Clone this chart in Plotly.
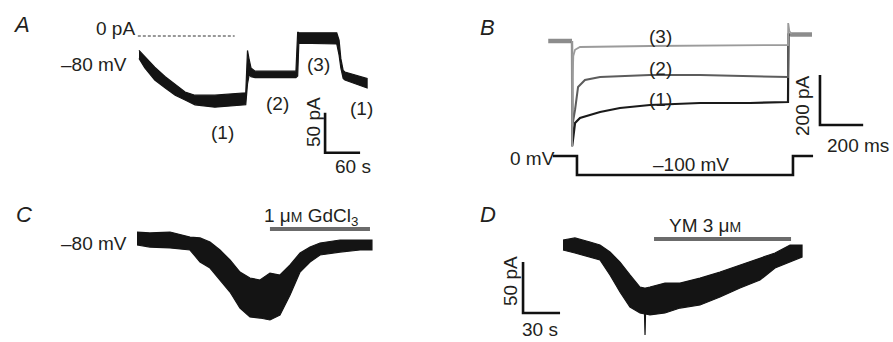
import plotly.graph_objects as go

W, H = 893, 342
FONT = "Liberation Sans, Arial, Helvetica, sans-serif"
TXT = "#231f20"

# ---------------- Panel A: holding current at -80 mV (time s, current pA)
A_t  = [0, 10, 27, 45, 62, 79, 96, 130, 183, 186, 189, 192, 199, 269, 272, 274, 339, 343, 346, 350, 353, 370, 391]
A_hi = [-18, -26, -39, -51, -61, -70, -74, -74, -71, -18, -30, -40, -44, -44, 5, 4, 4, -5, -28, -43, -45, -49, -53]
A_lo = [-28, -40, -55, -65, -74, -80, -86, -89, -86, -60, -48, -51, -52, -52, -50, -9, -10, -24, -40, -53, -55, -60, -65]
A_zero_t = [-2, 164]           # 0 pA reference line (s)
A_bar_t, A_bar_i = 319, -146    # scale bar corner
A_bar_dt, A_bar_di = 60, 50     # 60 s, 50 pA

# ---------------- Panel B: currents during a step to -100 mV (time ms, current pA)
B_base_left_t, B_base_left_i = [-110, 0], [0, 0]
B_base_right_t, B_base_right_i = [1010, 1111], [26, 26]
B1_t = [0, 1, 14, 37, 83, 130, 222, 361, 593, 824, 1000, 1002, 1010]
B1_i = [0, -420, -328, -308, -296, -284, -268, -256, -248, -248, -244, 26, 26]
B2_t = [0, 2, 14, 28, 60, 130, 361, 593, 1000, 1002, 1010]
B2_i = [0, -336, -276, -184, -156, -144, -136, -136, -144, 26, 26]
B3_t = [0, 0.5, 1.5, 3, 6, 14, 37, 361, 1000, 1001, 1006, 1015]
B3_i = [0, -424, -330, -150, -60, -35, -24, -20, -16, 72, 40, 28]
BV_t = [-88, 23, 23, 1023, 1023, 1116]
BV_v = [0, 0, -100, -100, 0, 0]
B_bar_t, B_bar_i = 1148, -336
B_bar_dt, B_bar_di = 200, 200   # 200 ms, 200 pA

# ---------------- Panel C: GdCl3 (time s, current pA)
C_t  = [0, 10.5, 26.8, 43.0, 51.1, 59.2, 67.3, 75.4, 83.5, 91.6, 99.7, 107.8, 115.9, 124.1, 132.2, 140.3, 148.4, 164.6, 180.8, 190.5]
C_hi = [7.8, 6.9, 7.8, 2.9, 2.0, -2.0, -9.8, -19.6, -31.4, -37.3, -39.2, -32.4, -34.3, -24.5, -12.7, -6.9, -2.9, 0, 0, 0]
C_lo = [-4.9, -6.9, -7.8, -9.8, -21.6, -27.5, -39.2, -51.0, -66.7, -75.5, -76.5, -78.4, -73.5, -53.9, -31.4, -21.6, -14.7, -11.8, -9.8, -9.8]
C_drug_t, C_drug_i = [107.8, 188.9], [10.8, 10.8]

# ---------------- Panel D: YM 3 uM (time s, current pA)
D_t  = [0, 9.7, 21.9, 30.0, 38.1, 46.2, 54.3, 62.4, 66.1, 66.5, 66.9, 70.5, 82.7, 94.9, 111.1, 127.3, 143.5, 159.7, 171.9, 184.1, 193.8]
D_hi = [4.9, 6.9, 2.9, 0, -6.9, -16.7, -29.4, -41.2, -42.2, -42.2, -42.2, -41.2, -37.3, -37.3, -32.4, -26.5, -19.6, -12.7, -7.8, 0, 0]
D_lo = [-4.9, -7.8, -11.8, -14.7, -29.4, -46.1, -60.8, -66.7, -67.6, -88.2, -67.6, -68.6, -66.7, -61.8, -58.8, -51.0, -42.2, -34.3, -22.5, -16.7, -11.8]
D_drug_t, D_drug_i = [73.8, 184.9], [5.9, 5.9]
D_bar_t, D_bar_i = -32.4, -66.7
D_bar_dt, D_bar_di = 30, 50     # 30 s, 50 pA

fig = go.Figure()
axes = {}

def place(n, box, origin, scale):
    l, t, r, b = box
    x0, y0 = origin
    sx, sy = scale
    sfx = "" if n == 1 else str(n)
    axes["xaxis" + sfx] = dict(domain=[l / W, r / W], range=[(l - x0) / sx, (r - x0) / sx],
                               visible=False, anchor="y" + sfx, fixedrange=True)
    axes["yaxis" + sfx] = dict(domain=[1 - b / H, 1 - t / H], range=[(y0 - b) / sy, (y0 - t) / sy],
                               visible=False, anchor="x" + sfx, fixedrange=True)

def place_y(n, xn, box, y0, sy, overlay):
    l, t, r, b = box
    axes["yaxis" + str(n)] = dict(domain=[1 - b / H, 1 - t / H], range=[(y0 - b) / sy, (y0 - t) / sy],
                                  visible=False, anchor="x" + xn, overlaying="y" + overlay, fixedrange=True)

place(1, (130, 0, 445, 180), (139, 36), (35 / 60, 40 / 50))
place(2, (540, 0, 893, 185), (572, 41), (0.216, 0.25))
place(3, (130, 190, 445, 342), (137, 240), (37 / 30, 51 / 50))
place(4, (470, 190, 893, 342), (563, 245), (37 / 30, 51 / 50))
place_y(5, "2", (540, 0, 893, 185), 156, 0.19, "2")

def band(t, hi, lo, xa, ya, color="#141414"):
    fig.add_trace(go.Scatter(x=t + t[::-1], y=hi + lo[::-1], fill="toself", fillcolor=color,
                             mode="lines", line=dict(color=color, width=1.2),
                             xaxis=xa, yaxis=ya, hoverinfo="skip"))

def line(x, y, xa, ya, color, width, dash=None):
    fig.add_trace(go.Scatter(x=x, y=y, mode="lines", line=dict(color=color, width=width, dash=dash),
                             xaxis=xa, yaxis=ya, hoverinfo="skip"))

def scalebar(t0, i0, dt, di, xa, ya):
    line([t0, t0, t0 + dt], [i0 + di, i0, i0], xa, ya, "#111", 2.6)

# Panel A
line(A_zero_t, [0, 0], "x", "y", "#333", 1, dash="3px,2px")
band(A_t, A_hi, A_lo, "x", "y")
scalebar(A_bar_t, A_bar_i, A_bar_dt, A_bar_di, "x", "y")

# Panel B
line(B_base_left_t, B_base_left_i, "x2", "y2", "#8c8c8c", 4.5)
line(B_base_right_t, B_base_right_i, "x2", "y2", "#8c8c8c", 4.5)
line(B1_t, B1_i, "x2", "y2", "#1a1a1a", 2.2)
line(B2_t, B2_i, "x2", "y2", "#5c5c5c", 2.0)
line(B3_t, B3_i, "x2", "y2", "#9b9b9b", 1.8)
line(BV_t, BV_v, "x2", "y5", "#111", 2.6)
scalebar(B_bar_t, B_bar_i, B_bar_dt, B_bar_di, "x2", "y2")

# Panel C
band(C_t, C_hi, C_lo, "x3", "y3")
line(C_drug_t, C_drug_i, "x3", "y3", "#6b6b6b", 4)

# Panel D
band(D_t, D_hi, D_lo, "x4", "y4")
line(D_drug_t, D_drug_i, "x4", "y4", "#6b6b6b", 4)
scalebar(D_bar_t, D_bar_i, D_bar_dt, D_bar_di, "x4", "y4")

def txt(s, x, y, size=19, anchor="center", angle=0, yanchor="middle"):
    return dict(text=s, x=x / W, y=1 - y / H, xref="paper", yref="paper", xanchor=anchor,
                yanchor=yanchor, showarrow=False, textangle=angle,
                font=dict(size=size, color=TXT, family=FONT))

small_m = "<span style='font-size:14px'>M</span>"
ann = [
    txt("<i>A</i>", 21, 25, 22),
    txt("0 pA", 137, 29, anchor="right"),
    txt("\u201380 mV", 129, 64, anchor="right"),
    txt("(1)", 222, 133),
    txt("(2)", 277, 103),
    txt("(3)", 318, 65),
    txt("(1)", 361, 108),
    txt("50 pA", 314, 122, angle=-90),
    txt("60 s", 353, 166),
    txt("<i>B</i>", 488, 27, 22),
    txt("(3)", 660, 37),
    txt("(2)", 660, 69),
    txt("(1)", 660, 99),
    txt("200 pA", 803, 106, angle=-90),
    txt("200 ms", 858, 146),
    txt("0 mV", 557, 158, anchor="right"),
    txt("\u2013100 mV", 691, 164),
    txt("<i>C</i>", 24, 214, 22),
    txt("\u201380 mV", 129, 243, anchor="right"),
    txt("1 \u03bc" + small_m + " GdCl<sub>3</sub>", 311, 217),
    txt("<i>D</i>", 488, 214, 22),
    txt("YM 3 \u03bc" + small_m, 705, 225),
    txt("50 pA", 510, 281, angle=-90),
    txt("30 s", 540, 342, yanchor="bottom"),
]

fig.update_layout(width=W, height=H, margin=dict(l=0, r=0, t=0, b=0),
                  paper_bgcolor="white", plot_bgcolor="white", showlegend=False,
                  annotations=ann, **axes)

fig.write_html("out.html", config={"displayModeBar": False},
               post_script="document.body.style.margin='0px';")
